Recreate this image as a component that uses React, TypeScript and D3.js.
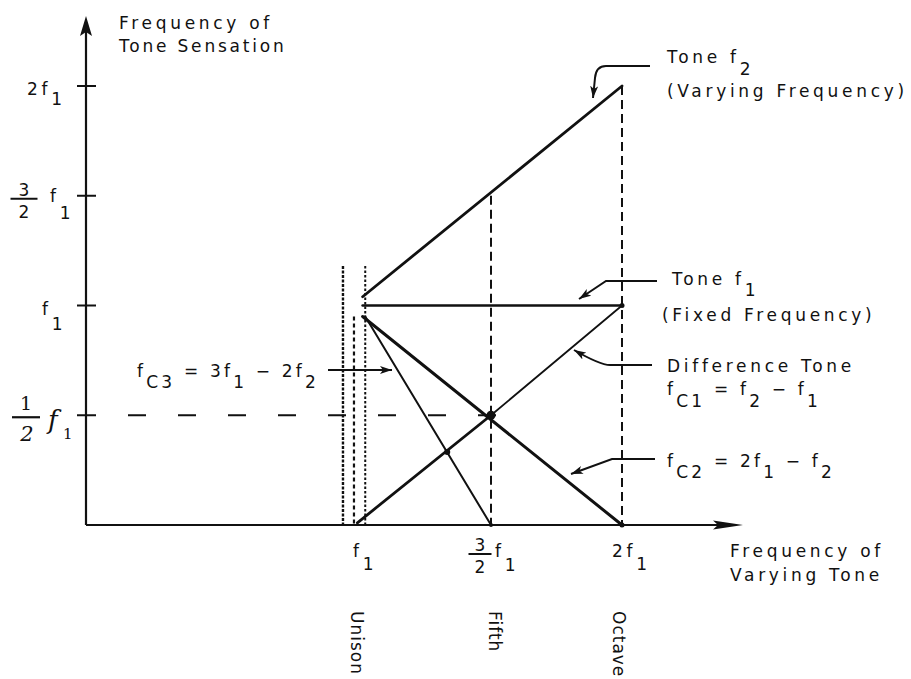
import React, { useEffect, useRef } from 'react';
import * as d3 from 'd3';

// every frequency is in units of f1; x = frequency of the varying tone f2
const xTickValues = [1, 1.5, 2];
const intervalNames = ['Unison', 'Fifth', 'Octave'];
const yTickValues = [2, 1.5, 1, 0.5];

// [x, y] end points of the tone lines, as drawn
const toneF2 = [[1.01, 1.04], [2, 2]];
const toneF1 = [[1.01, 1], [2, 1]];
const diffToneLow = [[0.99, 0.01], [1.5, 0.5]];
const diffToneHigh = [[1.5, 0.5], [2, 1]];
const combToneC2 = [[1.01, 0.95], [2, 0]];
const combToneC3 = [[1.02, 0.95], [1.5, 0]];
const crossPoints = [[1.5, 0.5], [1.333, 0.333], [2, 1], [1.5, 0], [2, 0]];
// [x, top] of the dashed guides down to the axis
const guideLines = [[1.5, 1.5], [2, 2]];
const halfLevel = 0.5;
const halfLevelEnd = 1.61;
// [x, top] of the dotted lines around unison
const unisonLines = [[0.935, 1.18], [0.977, 0.95], [1.02, 1.18]];

const FONT = '"DejaVu Sans", sans-serif';
const INK = '#111';

const App = () => {
    const svgRef = useRef<SVGSVGElement>(null);

    useEffect(() => {
        const svg = d3.select(svgRef.current);
        svg.selectAll('*').remove();

        const axisX = 86;
        const x = d3.scaleLinear().domain([1, 2]).range([360, 622]);
        const y = d3.scaleLinear().domain([0, 2]).range([525, 86]);
        const line = d3.line<number[]>().x(d => x(d[0])).y(d => y(d[1]));

        svg.append('defs').append('marker')
            .attr('id', 'arrowHead')
            .attr('viewBox', '0 0 12 8')
            .attr('refX', 12).attr('refY', 4)
            .attr('markerWidth', 12).attr('markerHeight', 8)
            .attr('markerUnits', 'userSpaceOnUse')
            .attr('orient', 'auto')
            .append('path')
            .attr('d', 'M0,0 L12,4 L0,8 L3,4 Z')
            .attr('fill', INK);

        // text with subscripts: parts are [text, baseline offset]
        const rich = (x0: number, y0: number, parts: [string, number][], size = 17, ls = 3.7) => {
            const t = svg.append('text')
                .attr('x', x0).attr('y', y0)
                .attr('font-family', FONT).attr('font-size', size)
                .attr('letter-spacing', ls).attr('fill', INK)
                .style('white-space', 'pre');
            let cur = 0;
            parts.forEach(([s, off]) => {
                t.append('tspan').attr('dy', off - cur).text(s);
                cur = off;
            });
        };
        const frac = (cx: number, yBar: number, num: string, den: string, half: number, size = 17) => {
            svg.append('text').attr('x', cx).attr('y', yBar - 3).attr('text-anchor', 'middle')
                .attr('font-family', FONT).attr('font-size', size).attr('fill', INK).text(num);
            svg.append('line').attr('x1', cx - half).attr('x2', cx + half)
                .attr('y1', yBar).attr('y2', yBar).attr('stroke', INK).attr('stroke-width', 2);
            svg.append('text').attr('x', cx).attr('y', yBar + 19).attr('text-anchor', 'middle')
                .attr('font-family', FONT).attr('font-size', size).attr('fill', INK).text(den);
        };

        // axes
        svg.append('line').attr('x1', axisX).attr('x2', axisX).attr('y1', y(0)).attr('y2', 30)
            .attr('stroke', INK).attr('stroke-width', 2.2);
        svg.append('path').attr('d', `M${axisX},16 L${axisX - 6},36 L${axisX},32 L${axisX + 6},36 Z`).attr('fill', INK);
        svg.append('line').attr('x1', axisX).attr('x2', 730).attr('y1', y(0)).attr('y2', y(0))
            .attr('stroke', INK).attr('stroke-width', 2.2);
        svg.append('path').attr('d', `M743,${y(0)} L713,${y(0) - 4.5} L718,${y(0)} L713,${y(0) + 4.5} Z`).attr('fill', INK);

        svg.selectAll('.ytick').data(yTickValues).enter().append('line')
            .attr('x1', axisX - 9).attr('x2', axisX + 10)
            .attr('y1', d => y(d)).attr('y2', d => y(d))
            .attr('stroke', INK).attr('stroke-width', 2);

        // dotted lines around unison
        const dotStyles = [['3,1.5', 2.4], ['4,3', 2.2], ['2.5,2', 2]];
        unisonLines.forEach((d, i) => {
            svg.append('line').attr('x1', x(d[0])).attr('x2', x(d[0]))
                .attr('y1', y(d[1])).attr('y2', y(0))
                .attr('stroke', INK).attr('stroke-width', dotStyles[i][1] as number)
                .attr('stroke-dasharray', dotStyles[i][0] as string);
        });

        // dashed guides
        guideLines.forEach(d => {
            svg.append('line').attr('x1', x(d[0])).attr('x2', x(d[0]))
                .attr('y1', y(d[1])).attr('y2', y(0))
                .attr('stroke', INK).attr('stroke-width', 2).attr('stroke-dasharray', '9,5');
        });
        svg.append('line').attr('x1', 128).attr('x2', x(halfLevelEnd))
            .attr('y1', y(halfLevel)).attr('y2', y(halfLevel))
            .attr('stroke', INK).attr('stroke-width', 2).attr('stroke-dasharray', '18,32');

        // tone lines
        const tones: [number[][], number][] = [
            [toneF2, 2.8], [toneF1, 2.6], [diffToneLow, 2.8], [diffToneHigh, 1.8],
            [combToneC2, 3], [combToneC3, 2],
        ];
        tones.forEach(([pts, w]) => {
            svg.append('path').attr('d', line(pts)).attr('fill', 'none')
                .attr('stroke', INK).attr('stroke-width', w).attr('stroke-linecap', 'round');
        });
        const dotR = [4.5, 3, 2.5, 2, 2.5];
        crossPoints.forEach((d, i) => {
            svg.append('circle').attr('cx', x(d[0])).attr('cy', y(d[1])).attr('r', dotR[i]).attr('fill', INK);
        });

        // y tick labels
        rich(27, y(2) + 9, [['2f', 0], ['1', 10]]);
        frac(24, y(1.5) + 3, '3', '2', 13.5);
        rich(50, y(1.5) + 6, [['f', 0], ['1', 17]]);
        rich(42, y(1) + 9, [['f', 0], ['1', 15]]);
        // handwritten 1/2 f1
        svg.append('text').attr('x', 26).attr('y', y(0.5) - 5).attr('text-anchor', 'middle')
            .attr('font-family', '"DejaVu Serif", serif').attr('font-size', 19)
            .attr('fill', INK).text('1');
        svg.append('line').attr('x1', 12).attr('x2', 40).attr('y1', y(0.5) + 2).attr('y2', y(0.5) + 2)
            .attr('stroke', INK).attr('stroke-width', 2.2);
        svg.append('text').attr('x', 27).attr('y', y(0.5) + 26).attr('text-anchor', 'middle')
            .attr('font-family', '"DejaVu Serif", serif').attr('font-style', 'italic').attr('font-size', 21)
            .attr('fill', INK).text('2');
        svg.append('text').attr('x', 48).attr('y', y(0.5) + 14)
            .attr('font-family', '"DejaVu Serif", serif').attr('font-style', 'italic').attr('font-size', 26)
            .attr('fill', INK).text('f');
        svg.append('text').attr('x', 63).attr('y', y(0.5) + 24)
            .attr('font-family', '"DejaVu Serif", serif').attr('font-size', 15)
            .attr('fill', INK).text('1');

        // x tick labels
        const xb = y(0) + 32;
        rich(x(1) - 7, xb, [['f', 0], ['1', 13]]);
        frac(x(1.5) - 11, xb - 3, '3', '2', 11.5);
        rich(x(1.5) + 4, xb, [['f', 0], ['1', 14]]);
        rich(x(2) - 10, xb, [['2f', 0], ['1', 13]]);

        // interval names
        xTickValues.forEach((v, i) => {
            svg.append('text')
                .attr('transform', `translate(${x(v) + (i === 1 ? 4 : -3)},611) rotate(90)`)
                .attr('dy', '0.36em')
                .attr('font-family', FONT).attr('font-size', 17).attr('letter-spacing', 1)
                .attr('fill', INK).text(intervalNames[i]);
        });

        // axis titles
        rich(119, 29, [['Frequency of', 0]]);
        rich(119, 52, [['Tone Sensation', 0]], 17, 2.8);
        rich(730, 557, [['Frequency of', 0]]);
        rich(730, 581, [['Varying Tone', 0]]);

        // callouts
        rich(667, 63, [['Tone f', 0], ['2', 12]]);
        rich(667, 97, [['(Varying Frequency)', 0]]);
        rich(672, 285, [['Tone f', 0], ['1', 11]], 17, 3.7);
        rich(662, 321, [['(Fixed Frequency)', 0]]);
        rich(667, 372, [['Difference Tone', 0]]);
        rich(667, 395, [['f', 0], ['C1', 12], [' = f', 0], ['2', 12], [' \u2212 f', 0], ['1', 12]], 17, 3.2);
        rich(667, 467, [['f', 0], ['C2', 11], [' = 2f', 0], ['1', 11], [' \u2212 f', 0], ['2', 11]], 17, 3.2);
        rich(137, 377, [['f', 0], ['C3', 11], [' = 3f', 0], ['1', 11], [' \u2212 2f', 0], ['2', 11]], 17, 3.2);

        const callouts = [
            'M650,66 H606 Q596,66 595,78 L593,98',
            'M657,281 H606 L579,299',
            'M652,365 H610 Q600,365 574,350',
            'M655,459 H612 L571,474',
            'M328,370 H392',
        ];
        callouts.forEach(d => {
            svg.append('path').attr('d', d).attr('fill', 'none')
                .attr('stroke', INK).attr('stroke-width', 2)
                .attr('marker-end', 'url(#arrowHead)');
        });
    }, []);

    return (
        <svg
            ref={svgRef}
            width={911}
            height={679}
            style={{ position: 'absolute', left: 0, top: 0, background: '#fff' }}
        />
    );
};

export default App;
